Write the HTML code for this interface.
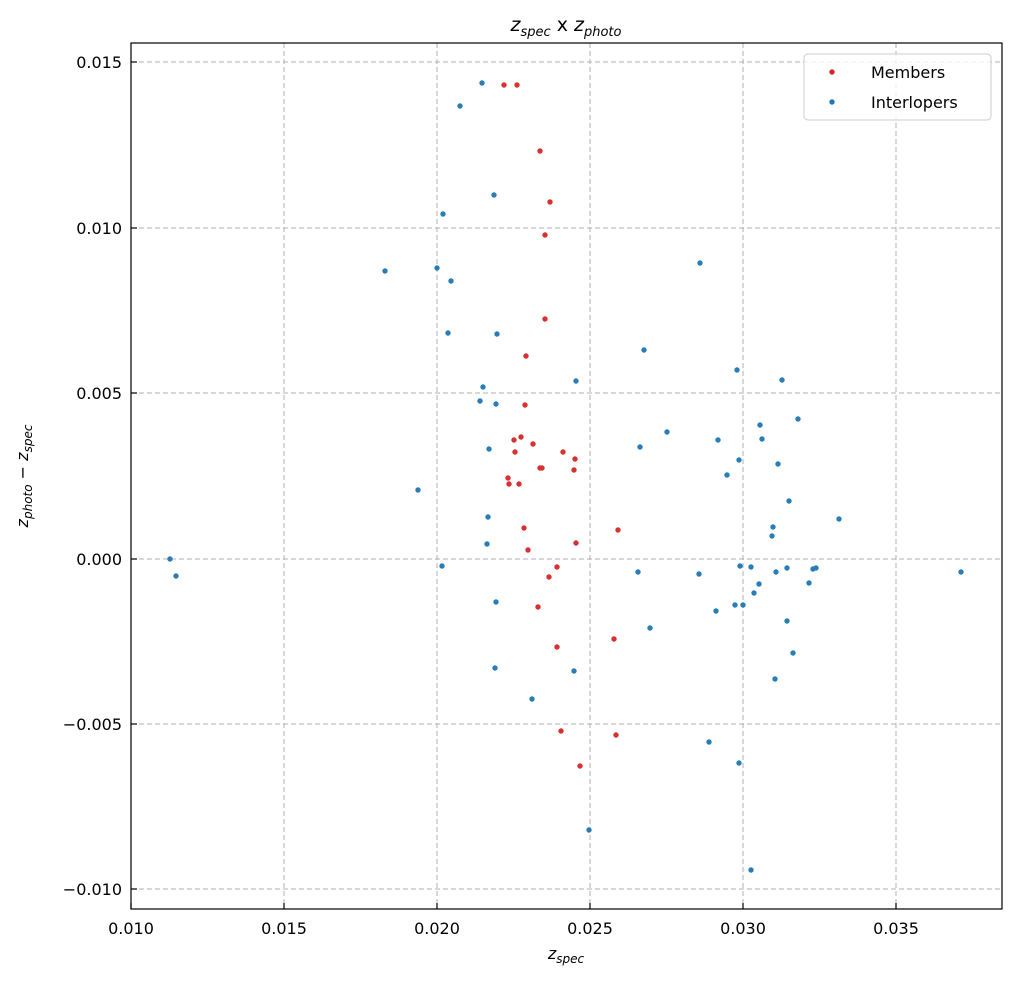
<!DOCTYPE html>
<html><head><meta charset="utf-8"><style>body{margin:0;background:#fff}</style></head><body>
<svg width="1017" height="983" xmlns="http://www.w3.org/2000/svg" font-family="DejaVu Sans, Liberation Sans, sans-serif">
<rect width="1017" height="983" fill="#fff"/>
<g stroke="#b0b0b0" stroke-dasharray="5,3" stroke-width="1">
<line x1="284" y1="43" x2="284" y2="909"/><line x1="437" y1="43" x2="437" y2="909"/><line x1="590" y1="43" x2="590" y2="909"/><line x1="743" y1="43" x2="743" y2="909"/><line x1="896" y1="43" x2="896" y2="909"/>
<line x1="131" y1="62" x2="1002" y2="62"/><line x1="131" y1="228" x2="1002" y2="228"/><line x1="131" y1="393" x2="1002" y2="393"/><line x1="131" y1="559" x2="1002" y2="559"/><line x1="131" y1="724" x2="1002" y2="724"/><line x1="131" y1="889" x2="1002" y2="889"/>
</g>
<g fill="#d62728" opacity="0.95">
<circle cx="504" cy="85" r="2.7"/><circle cx="517" cy="85" r="2.7"/><circle cx="540" cy="151" r="2.7"/><circle cx="550" cy="202" r="2.7"/><circle cx="545" cy="235" r="2.7"/><circle cx="545" cy="319" r="2.7"/><circle cx="526" cy="356" r="2.7"/><circle cx="525" cy="405" r="2.7"/><circle cx="521" cy="437" r="2.7"/><circle cx="514" cy="440" r="2.7"/><circle cx="533" cy="444" r="2.7"/><circle cx="515" cy="452" r="2.7"/><circle cx="563" cy="452" r="2.7"/><circle cx="575" cy="459" r="2.7"/><circle cx="540" cy="468" r="2.7"/><circle cx="542" cy="468" r="2.7"/><circle cx="574" cy="470" r="2.7"/><circle cx="508" cy="478" r="2.7"/><circle cx="509" cy="484" r="2.7"/><circle cx="519" cy="484" r="2.7"/><circle cx="524" cy="528" r="2.7"/><circle cx="618" cy="530" r="2.7"/><circle cx="576" cy="543" r="2.7"/><circle cx="528" cy="550" r="2.7"/><circle cx="557" cy="567" r="2.7"/><circle cx="549" cy="577" r="2.7"/><circle cx="538" cy="607" r="2.7"/><circle cx="614" cy="639" r="2.7"/><circle cx="557" cy="647" r="2.7"/><circle cx="561" cy="731" r="2.7"/><circle cx="616" cy="735" r="2.7"/><circle cx="580" cy="766" r="2.7"/>
</g>
<g fill="#1f77b4" opacity="0.95">
<circle cx="482" cy="83" r="2.7"/><circle cx="460" cy="106" r="2.7"/><circle cx="494" cy="195" r="2.7"/><circle cx="443" cy="214" r="2.7"/><circle cx="385" cy="271" r="2.7"/><circle cx="437" cy="268" r="2.7"/><circle cx="451" cy="281" r="2.7"/><circle cx="700" cy="263" r="2.7"/><circle cx="448" cy="333" r="2.7"/><circle cx="497" cy="334" r="2.7"/><circle cx="644" cy="350" r="2.7"/><circle cx="737" cy="370" r="2.7"/><circle cx="782" cy="380" r="2.7"/><circle cx="483" cy="387" r="2.7"/><circle cx="576" cy="381" r="2.7"/><circle cx="480" cy="401" r="2.7"/><circle cx="496" cy="404" r="2.7"/><circle cx="667" cy="432" r="2.7"/><circle cx="798" cy="419" r="2.7"/><circle cx="760" cy="425" r="2.7"/><circle cx="718" cy="440" r="2.7"/><circle cx="762" cy="439" r="2.7"/><circle cx="489" cy="449" r="2.7"/><circle cx="640" cy="447" r="2.7"/><circle cx="739" cy="460" r="2.7"/><circle cx="778" cy="464" r="2.7"/><circle cx="727" cy="475" r="2.7"/><circle cx="418" cy="490" r="2.7"/><circle cx="789" cy="501" r="2.7"/><circle cx="488" cy="517" r="2.7"/><circle cx="839" cy="519" r="2.7"/><circle cx="773" cy="527" r="2.7"/><circle cx="772" cy="536" r="2.7"/><circle cx="487" cy="544" r="2.7"/><circle cx="170" cy="559" r="2.7"/><circle cx="176" cy="576" r="2.7"/><circle cx="442" cy="566" r="2.7"/><circle cx="638" cy="572" r="2.7"/><circle cx="699" cy="574" r="2.7"/><circle cx="740" cy="566" r="2.7"/><circle cx="751" cy="567" r="2.7"/><circle cx="787" cy="568" r="2.7"/><circle cx="813" cy="569" r="2.7"/><circle cx="816" cy="568" r="2.7"/><circle cx="776" cy="572" r="2.7"/><circle cx="961" cy="572" r="2.7"/><circle cx="759" cy="584" r="2.7"/><circle cx="809" cy="583" r="2.7"/><circle cx="754" cy="593" r="2.7"/><circle cx="496" cy="602" r="2.7"/><circle cx="735" cy="605" r="2.7"/><circle cx="743" cy="605" r="2.7"/><circle cx="716" cy="611" r="2.7"/><circle cx="787" cy="621" r="2.7"/><circle cx="650" cy="628" r="2.7"/><circle cx="793" cy="653" r="2.7"/><circle cx="495" cy="668" r="2.7"/><circle cx="574" cy="671" r="2.7"/><circle cx="775" cy="679" r="2.7"/><circle cx="532" cy="699" r="2.7"/><circle cx="709" cy="742" r="2.7"/><circle cx="739" cy="763" r="2.7"/><circle cx="589" cy="830" r="2.7"/><circle cx="751" cy="870" r="2.7"/>
</g>
<rect x="131" y="43" width="871" height="866" fill="none" stroke="#000" stroke-width="1.2"/>
<g stroke="#000" stroke-width="1.2">
<line x1="131" y1="909" x2="131" y2="903"/><line x1="284" y1="909" x2="284" y2="903"/><line x1="437" y1="909" x2="437" y2="903"/><line x1="590" y1="909" x2="590" y2="903"/><line x1="743" y1="909" x2="743" y2="903"/><line x1="896" y1="909" x2="896" y2="903"/>
<line x1="131" y1="62" x2="137" y2="62"/><line x1="131" y1="228" x2="137" y2="228"/><line x1="131" y1="393" x2="137" y2="393"/><line x1="131" y1="559" x2="137" y2="559"/><line x1="131" y1="724" x2="137" y2="724"/><line x1="131" y1="889" x2="137" y2="889"/>
</g>
<g font-size="16" fill="#000" text-anchor="middle">
<text x="131" y="934">0.010</text><text x="284" y="934">0.015</text><text x="437" y="934">0.020</text><text x="590" y="934">0.025</text><text x="743" y="934">0.030</text><text x="896" y="934">0.035</text>
</g>
<g font-size="16" fill="#000" text-anchor="end">
<text x="122" y="68">0.015</text><text x="122" y="234">0.010</text><text x="122" y="399">0.005</text><text x="122" y="565">0.000</text><text x="122" y="730">−0.005</text><text x="122" y="895">−0.010</text>
</g>
<text x="566" y="959" font-size="16" font-style="italic" text-anchor="middle">z<tspan font-size="12" dy="4">spec</tspan></text>
<text transform="translate(28,476) rotate(-90)" font-size="16" text-anchor="middle"><tspan font-style="italic">z</tspan><tspan font-size="12" dy="4" font-style="italic">photo</tspan><tspan dy="-4"> − </tspan><tspan font-style="italic">z</tspan><tspan font-size="12" dy="4" font-style="italic">spec</tspan></text>
<text x="566" y="31" font-size="19" text-anchor="middle"><tspan font-style="italic">z</tspan><tspan font-size="13" dy="5" font-style="italic">spec</tspan><tspan dy="-5"> x </tspan><tspan font-style="italic">z</tspan><tspan font-size="13" dy="5" font-style="italic">photo</tspan></text>
<rect x="804" y="54" width="187" height="66" rx="4" fill="#fff" fill-opacity="0.8" stroke="#ccc"/>
<circle cx="832" cy="72" r="2.7" fill="#d62728"/><text x="871" y="78" font-size="16">Members</text>
<circle cx="832" cy="102" r="2.7" fill="#1f77b4"/><text x="871" y="108" font-size="16">Interlopers</text>
</svg>
</body></html>
